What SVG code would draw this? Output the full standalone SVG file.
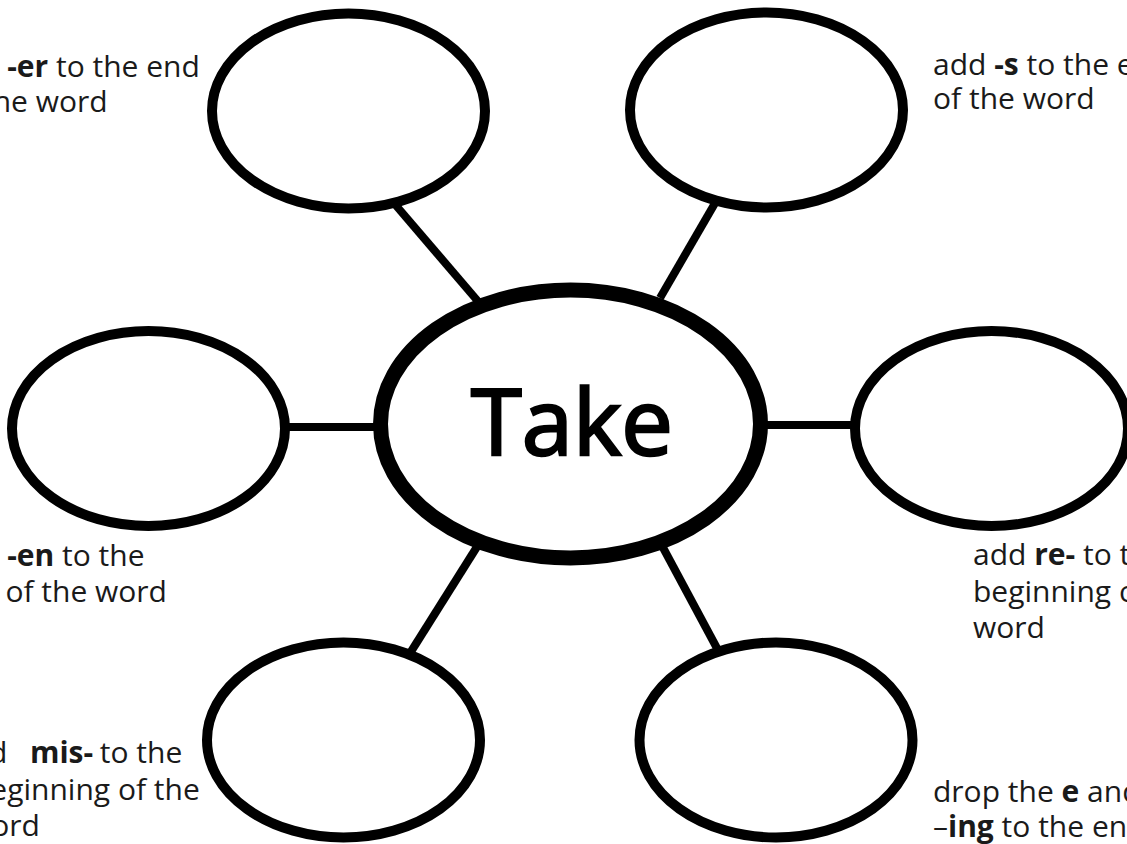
<svg xmlns="http://www.w3.org/2000/svg" width="1127" height="844" viewBox="0 0 1127 844">
<style>
.bg{fill:#ffffff}
.node{fill:#ffffff;stroke:#000000;stroke-width:10}
.hub{fill:#ffffff;stroke:#000000;stroke-width:15}
.conn{stroke:#000000;stroke-width:8;stroke-linecap:butt;fill:none}
.lbl{font-family:"Open Sans","Noto Sans","Liberation Sans",sans-serif;font-size:30px;fill:#1a1a1a}
.lbl tspan.b{font-weight:bold}
.title{font-family:"Open Sans","Noto Sans","Liberation Sans",sans-serif;font-size:92px;fill:#000000;stroke:#000000;stroke-width:2.5;text-anchor:middle}
</style>
<rect class="bg" x="0" y="0" width="1127" height="844"/>
<g id="connectors">
<line class="conn" x1="393" y1="202" x2="482" y2="306"/>
<line class="conn" x1="718" y1="198" x2="660" y2="298"/>
<line class="conn" x1="280" y1="427" x2="382" y2="427"/>
<line class="conn" x1="758" y1="425" x2="858" y2="425"/>
<line class="conn" x1="480" y1="542" x2="407" y2="658"/>
<line class="conn" x1="660" y1="542" x2="719" y2="652"/>
</g>
<g id="node-top-left"><ellipse class="node" cx="348.5" cy="111" rx="136.5" ry="97.5"/></g>
<g id="node-top-right"><ellipse class="node" cx="766.5" cy="110" rx="136.5" ry="97.5"/></g>
<g id="node-left"><ellipse class="node" cx="148.5" cy="428.5" rx="136.5" ry="97.5"/></g>
<g id="node-right"><ellipse class="node" cx="991.5" cy="428.5" rx="136.5" ry="97.5"/></g>
<g id="node-bottom-left"><ellipse class="node" cx="343.5" cy="740" rx="136.5" ry="97.5"/></g>
<g id="node-bottom-right"><ellipse class="node" cx="776" cy="740" rx="136.5" ry="97.5"/></g>
<g id="node-center">
<ellipse class="hub" cx="570.5" cy="424" rx="190" ry="134"/>
<text class="title" x="572" y="455">Take</text>
</g>
<g id="labels">
<text class="lbl" x="-54" y="77">add <tspan class="b">-er</tspan> to the end</text>
<text class="lbl" x="-54" y="112">of the word</text>
<text class="lbl" x="933" y="75">add <tspan class="b">-s</tspan> to the end</text>
<text class="lbl" x="933" y="109">of the word</text>
<text class="lbl" x="-54" y="566">add <tspan class="b">-en</tspan> to the</text>
<text class="lbl" x="-56" y="602">end of the word</text>
<text class="lbl" x="973" y="565">add <tspan class="b">re-</tspan> to the</text>
<text class="lbl" x="973" y="602">beginning of the</text>
<text class="lbl" x="973" y="638">word</text>
<text class="lbl" x="-46" y="763">add <tspan class="b" x="30">mis-</tspan><tspan x="92"> to the</tspan></text>
<text class="lbl" x="-28" y="800">beginning of the</text>
<text class="lbl" x="-32" y="836">word</text>
<text class="lbl" x="933" y="802">drop the <tspan class="b">e</tspan> and add</text>
<text class="lbl" x="933" y="837">–<tspan class="b">ing</tspan> to the end</text>
</g>
</svg>
